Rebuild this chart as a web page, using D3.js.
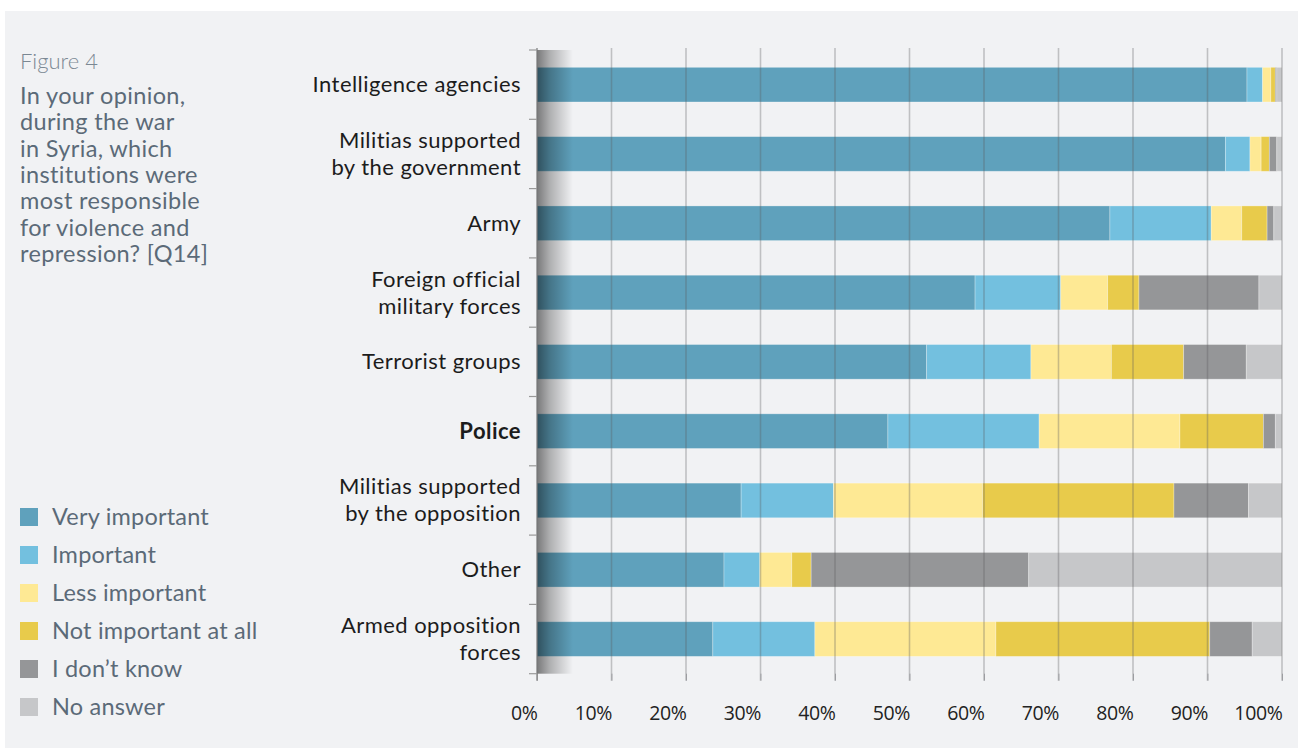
<!DOCTYPE html>
<html>
<head>
<meta charset="utf-8">
<script src="https://cdn.jsdelivr.net/npm/d3@7"></script>
<style>
  html, body { margin: 0; padding: 0; background: #ffffff; }
  svg { display: block; }
</style>
</head>
<body>
<div id="chart"></div>
<script>
// Categories, top to bottom (label lines)
const categories = [
  ["Intelligence agencies"],
  ["Militias supported", "by the government"],
  ["Army"],
  ["Foreign official", "military forces"],
  ["Terrorist groups"],
  ["Police"],
  ["Militias supported", "by the opposition"],
  ["Other"],
  ["Armed opposition", "forces"]
];
const boldCategory = "Police";

const seriesNames = ["Very important", "Important", "Less important", "Not important at all", "I don\u2019t know", "No answer"];
const seriesColors = ["#5fa1bc", "#73c0df", "#fee994", "#e8cb4b", "#959698", "#c6c7c9"];

// percentages per category, in series order
const veryImportant   = [95.3, 92.4, 76.9, 58.8, 52.3, 47.1, 27.4, 25.1, 23.6];
const important       = [ 2.1,  3.3, 13.6, 11.5, 14.0, 20.3, 12.4,  4.8, 13.7];
const lessImportant   = [ 1.1,  1.5,  4.1,  6.3, 10.8, 18.9, 20.0,  4.3, 24.3];
const notImportant    = [ 0.6,  1.1,  3.4,  4.2,  9.7, 11.2, 25.7,  2.6, 28.7];
const dontKnow        = [ 0.2,  1.0,  0.9, 16.1,  8.4,  1.6, 10.0, 29.2,  5.7];
const noAnswer        = [ 0.7,  0.7,  1.1,  3.1,  4.8,  0.9,  4.5, 34.0,  4.0];

const xTicks = [0, 10, 20, 30, 40, 50, 60, 70, 80, 90, 100];

const figureLabel = "Figure 4";
const questionLines = [
  "In your opinion,",
  "during the war",
  "in Syria, which",
  "institutions were",
  "most responsible",
  "for violence and",
  "repression? [Q14]"
];

const W = 1303, H = 753;
const plotLeft = 537, plotRight = 1282, plotTop = 50, plotBottom = 673.7;
const textGrey = "#5b6a78";
const fontFamily = "Lato, 'Open Sans', sans-serif";

const allSeries = [veryImportant, important, lessImportant, notImportant, dontKnow, noAnswer];
const keys = categories.map((c) => c.join(" "));
const rows = keys.map((k, i) => {
  const r = { key: k };
  seriesNames.forEach((s, j) => { r[s] = allSeries[j][i]; });
  return r;
});
const stacked = d3.stack().keys(seriesNames)(rows);

const svg = d3.select("#chart").append("svg")
  .attr("width", W).attr("height", H)
  .style("font-family", fontFamily);

// panel background
svg.append("rect")
  .attr("x", 5).attr("y", 11).attr("width", W - 10).attr("height", H - 16)
  .attr("fill", "#f1f2f4");

const x = d3.scaleLinear().domain([0, 100]).range([plotLeft, plotRight]);
const y = d3.scaleBand().domain(keys).range([plotTop, plotBottom])
  .paddingInner(0.5).paddingOuter(0.25);
const step = y.step();

// bars
const gBars = svg.append("g");
stacked.forEach((layer, j) => {
  gBars.append("g")
    .attr("fill", seriesColors[j])
    .selectAll("rect")
    .data(layer)
    .join("rect")
    .attr("x", (d) => x(d[0]))
    .attr("y", (d) => y(d.data.key))
    .attr("width", (d) => Math.max(0, x(d[1]) - x(d[0])))
    .attr("height", y.bandwidth())
    .attr("stroke", "rgba(255,255,255,0.35)")
    .attr("stroke-width", 0.8);
});

// left shadow gradient
const defs = svg.append("defs");
const grad = defs.append("linearGradient").attr("id", "shade")
  .attr("x1", "0%").attr("x2", "100%").attr("y1", "0%").attr("y2", "0%");
grad.append("stop").attr("offset", "0%").attr("stop-color", "#000").attr("stop-opacity", 0.5);
grad.append("stop").attr("offset", "35%").attr("stop-color", "#000").attr("stop-opacity", 0.28);
grad.append("stop").attr("offset", "100%").attr("stop-color", "#000").attr("stop-opacity", 0);
svg.append("rect")
  .attr("x", plotLeft).attr("y", plotTop)
  .attr("width", 36).attr("height", plotBottom - plotTop)
  .attr("fill", "url(#shade)");

// vertical gridlines over bars
svg.append("g")
  .selectAll("line")
  .data(xTicks.slice(1))
  .join("line")
  .attr("x1", (d) => x(d)).attr("x2", (d) => x(d))
  .attr("y1", plotTop - 2).attr("y2", plotBottom + 7)
  .attr("stroke", "rgba(90,90,95,0.33)")
  .attr("stroke-width", 1.6);

// x axis
const xAxis = d3.axisBottom(x).tickValues(xTicks).tickSize(7).tickFormat((d) => d + "%");
const xG = svg.append("g")
  .attr("transform", `translate(0, ${plotBottom})`)
  .call(xAxis);
xG.select(".domain").remove();
xG.selectAll("line").attr("stroke", "rgba(90,90,95,0.4)");
xG.selectAll("text")
  .attr("text-anchor", "end")
  .attr("x", 0)
  .attr("dy", 0)
  .attr("y", 46)
  .attr("fill", "#222")
  .attr("font-size", 19.5)
  .attr("font-family", "'Open Sans', sans-serif")
  .attr("letter-spacing", -0.35);

// y axis line with ticks at band boundaries
const yBounds = keys.map((k) => y(k) - step * 0.25).concat([plotBottom]);
svg.append("line")
  .attr("x1", plotLeft).attr("x2", plotLeft)
  .attr("y1", plotTop - 2).attr("y2", plotBottom + 7)
  .attr("stroke", "#777").attr("stroke-width", 1.2);
svg.append("g")
  .selectAll("line")
  .data(yBounds)
  .join("line")
  .attr("x1", plotLeft - 8).attr("x2", plotLeft)
  .attr("y1", (d) => d).attr("y2", (d) => d)
  .attr("stroke", "#999").attr("stroke-width", 1.2);

// category labels
const gLab = svg.append("g");
categories.forEach((lines, i) => {
  const cy = y(keys[i]) + y.bandwidth() / 2;
  const lh = 27;
  const t = gLab.append("text")
    .attr("text-anchor", "end")
    .attr("fill", "#1c1c1c")
    .attr("font-size", 22)
    .attr("letter-spacing", 0.45)
    .attr("font-weight", keys[i] === boldCategory ? 700 : 400);
  lines.forEach((ln, k) => {
    t.append("tspan")
      .attr("x", 521)
      .attr("y", cy + 7.5 + (k - (lines.length - 1) / 2) * lh)
      .text(ln);
  });
});

// figure label and question
svg.append("text")
  .attr("x", 20).attr("y", 69)
  .attr("fill", "#7b8893")
  .attr("font-size", 22)
  .attr("font-weight", 300)
  .text(figureLabel);
const q = svg.append("text")
  .attr("fill", textGrey)
  .attr("font-size", 23.5)
  .attr("letter-spacing", 0.35);
questionLines.forEach((ln, k) => {
  q.append("tspan").attr("x", 20).attr("y", 104 + k * 26.3).text(ln);
});

// legend
const legend = svg.append("g");
seriesNames.forEach((s, j) => {
  const cy = 517 + j * 38;
  legend.append("rect")
    .attr("x", 20).attr("y", cy - 9).attr("width", 18).attr("height", 18)
    .attr("fill", seriesColors[j]);
  legend.append("text")
    .attr("x", 52).attr("y", cy + 8)
    .attr("fill", textGrey)
    .attr("font-size", 23.5)
    .attr("letter-spacing", 0.2)
    .text(s);
});
</script>
</body>
</html>
